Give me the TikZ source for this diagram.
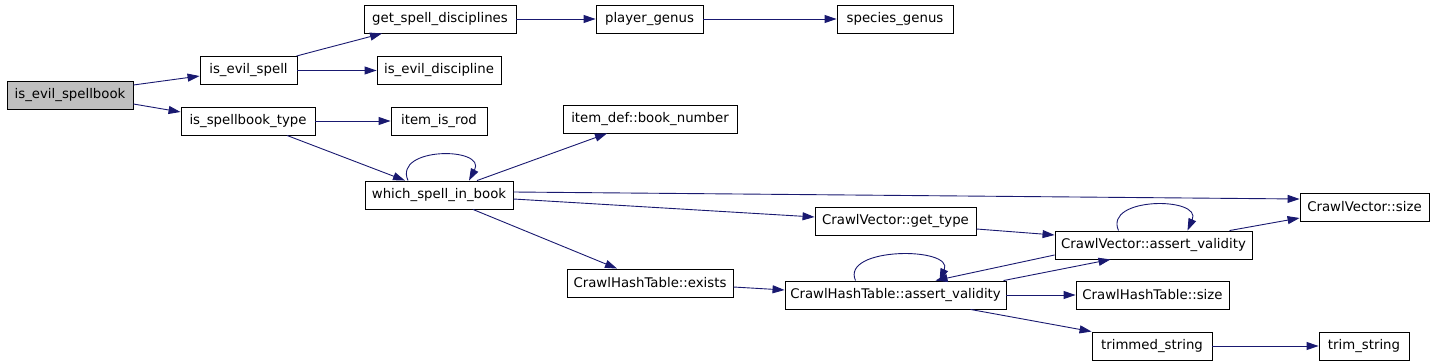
\documentclass[tikz,border=0pt]{standalone}
\usepackage{fontspec}
\setmainfont{DejaVu Sans}
\definecolor{callblue}{RGB}{25,25,112}
\definecolor{rootgray}{RGB}{191,191,191}
\usetikzlibrary{arrows.meta}

\begin{document}
\begin{tikzpicture}[
  x=1pt, y=-1pt,
  fn/.style={draw, line width=0.9pt, minimum height=28pt, inner sep=0pt, font=\fontsize{13.3}{16}\selectfont},
  root/.style={fn, fill=rootgray},
  arr/.style={-{Triangle[length=12pt,width=8pt]}, draw=callblue, line width=0.9pt}
]
\useasboundingbox (0,0) rectangle (1435,364);

% functions, left to right
\node[root, minimum width=126pt] (evilbook)  at (70,95.5)   {is\_evil\_spellbook};
\node[fn, minimum width=97pt]  (evilspell)   at (248.5,70.5) {is\_evil\_spell};
\node[fn, minimum width=134pt] (spelltype)   at (248,121)   {is\_spellbook\_type};
\node[fn, minimum width=152pt] (getdisc)     at (440,19)    {get\_spell\_disciplines};
\node[fn, minimum width=124pt] (evildisc)    at (439,70.5)  {is\_evil\_discipline};
\node[fn, minimum width=96pt]  (isrod)       at (439,121)   {item\_is\_rod};
\node[fn, minimum width=148pt] (whichbook)   at (439,195)   {which\_spell\_in\_book};
\node[fn, minimum width=107pt] (genus)       at (649.5,19)  {player\_genus};
\node[fn, minimum width=174pt] (booknum)     at (650,119)   {item\_def::book\_number};
\node[fn, minimum width=166pt] (hexists)     at (650,283)   {CrawlHashTable::exists};
\node[fn, minimum width=116pt] (speciesgenus) at (895,19)   {species\_genus};
\node[fn, minimum width=161pt] (cvtype)      at (895.5,221) {CrawlVector::get\_type};
\node[fn, minimum width=221pt] (hassert)     at (895.5,295) {CrawlHashTable::assert\_validity};
\node[fn, minimum width=197pt] (cvassert)    at (1153.5,245) {CrawlVector::assert\_validity};
\node[fn, minimum width=153pt] (hsize)       at (1152.5,295) {CrawlHashTable::size};
\node[fn, minimum width=120pt] (trimmed)     at (1152,346)  {trimmed\_string};
\node[fn, minimum width=129pt] (cvsize)      at (1364.5,207) {CrawlVector::size};
\node[fn, minimum width=90pt]  (trimstr)     at (1364,346)  {trim\_string};

% calls
\draw[arr] ([yshift=10.5pt]evilbook.east) -- ([yshift=-5.5pt]evilspell.west);
\draw[arr] ([yshift=-8.5pt]evilbook.east) -- ([yshift=9pt]spelltype.west);
\draw[arr] ([xshift=48pt]evilspell.north) to[out=15,in=195] ([xshift=-58pt]getdisc.south);
\draw[arr] (evilspell.east) -- (evildisc.west);
\draw[arr] (spelltype.east) -- (isrod.west);
\draw[arr] ([xshift=39pt]spelltype.south) -- ([xshift=-34pt]whichbook.north);
\draw[arr] ([xshift=-31pt]whichbook.north) .. controls +(-15,-34) and +(18,-34) .. ([xshift=30pt]whichbook.north);
\draw[arr] ([xshift=38pt]whichbook.north) -- ([xshift=-43pt]booknum.south);
\draw[arr] ([yshift=3pt]whichbook.east) -- ([yshift=8pt]cvsize.west);
\draw[arr] ([yshift=-4pt]whichbook.east) -- ([yshift=4pt]cvtype.west);
\draw[arr] ([xshift=34pt]whichbook.south) -- ([xshift=-33pt]hexists.north);
\draw[arr] (getdisc.east) -- (genus.west);
\draw[arr] (genus.east) -- (speciesgenus.west);
\draw[arr] ([yshift=-4pt]hexists.east) -- ([yshift=5pt]hassert.west);
\draw[arr] ([yshift=-8pt]cvtype.east) -- ([yshift=10pt]cvassert.west);
\draw[arr] ([xshift=-35pt]cvassert.north) .. controls +(-15,-34) and +(15,-34) .. ([xshift=34pt]cvassert.north);
\draw[arr] ([xshift=76pt]cvassert.north) -- ([yshift=-11pt]cvsize.west);
\draw[arr] ([yshift=-10pt]cvassert.west) -- ([xshift=40pt]hassert.north);
\draw[arr] ([xshift=108pt]hassert.north) -- ([xshift=-43pt]cvassert.south);
\draw[arr] ([xshift=-40pt]hassert.north) .. controls +(-15,-34) and +(15,-34) .. ([xshift=44pt]hassert.north);
\draw[arr] (hassert.east) -- (hsize.west);
\draw[arr] ([xshift=75pt]hassert.south) -- (trimmed.north west);
\draw[arr] (trimmed.east) -- (trimstr.west);

\end{tikzpicture}
\end{document}
